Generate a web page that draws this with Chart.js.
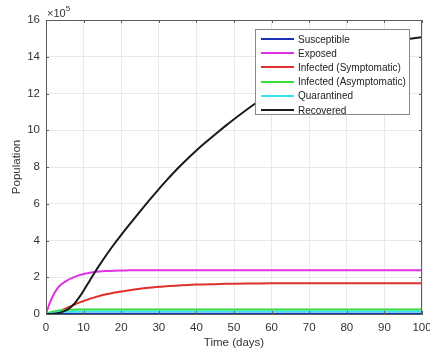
<!DOCTYPE html>
<html>
<head>
<meta charset="utf-8">
<script src="https://cdn.jsdelivr.net/npm/chart.js@4/dist/chart.umd.min.js"></script>
<style>
  html, body { margin: 0; padding: 0; background: #fff; }
  #wrap { position: relative; width: 430px; height: 353px; }
  #legend {
    position: absolute; left: 255px; top: 29px; width: 155px; height: 86px;
    background: #fff; border: 1px solid #8a8a8a;
    font-family: "Liberation Sans", Arial, sans-serif; font-size: 10px; color: #222;
    box-sizing: border-box; padding-top: 2px;
  }
  .row { height: 14.2px; display: flex; align-items: center; }
  .swatch { width: 33px; height: 2px; margin-left: 5px; margin-right: 4px; }
</style>
</head>
<body>
<div id="wrap">
  <canvas id="chartCanvas" width="430" height="353"></canvas>
  <div id="legend"></div>
</div>
<script>
// time axis (days)
const days = [0, 1, 2, 3, 4, 5, 6, 7, 8, 9, 10, 11, 12, 13, 14,
  16, 18, 20, 22, 24, 26, 28, 30, 32, 34, 36, 38, 40, 42, 44, 46, 48, 50,
  55, 60, 65, 70, 75, 80, 85, 90, 95, 100];

// values in units of 10^5
const susceptible = [0.01, 0.01, 0.01, 0.01, 0.01, 0.01, 0.01, 0.01, 0.01, 0.01, 0.01, 0.01, 0.01, 0.01, 0.01,
  0.01, 0.01, 0.01, 0.01, 0.01, 0.01, 0.01, 0.01, 0.01, 0.01, 0.01, 0.01, 0.01, 0.01, 0.01, 0.01, 0.01, 0.01,
  0.01, 0.01, 0.01, 0.01, 0.01, 0.01, 0.01, 0.01, 0.01, 0.01];
const exposed = [0, 0.6, 1.05, 1.38, 1.6, 1.75, 1.87, 1.97, 2.05, 2.12, 2.18, 2.22, 2.26, 2.29, 2.31,
  2.34, 2.36, 2.37, 2.375, 2.38, 2.38, 2.38, 2.38, 2.38, 2.38, 2.38, 2.38, 2.38, 2.38, 2.38, 2.38, 2.38, 2.38,
  2.38, 2.38, 2.38, 2.38, 2.38, 2.38, 2.38, 2.38, 2.38, 2.38];
const symptomatic = [0, 0.01, 0.05, 0.11, 0.19, 0.28, 0.37, 0.46, 0.55, 0.63, 0.71, 0.78, 0.85, 0.91, 0.97,
  1.07, 1.16, 1.23, 1.29, 1.35, 1.4, 1.44, 1.48, 1.51, 1.54, 1.56, 1.58, 1.6, 1.61, 1.62, 1.63, 1.64, 1.65,
  1.66, 1.67, 1.67, 1.67, 1.67, 1.67, 1.67, 1.67, 1.67, 1.67];
const asymptomatic = [0, 0.08, 0.14, 0.18, 0.21, 0.22, 0.23, 0.235, 0.24, 0.245, 0.245, 0.245, 0.245, 0.245, 0.245,
  0.245, 0.245, 0.245, 0.245, 0.245, 0.245, 0.245, 0.245, 0.245, 0.245, 0.245, 0.245, 0.245, 0.245, 0.245, 0.245, 0.245, 0.245,
  0.245, 0.245, 0.245, 0.245, 0.245, 0.245, 0.245, 0.245, 0.245, 0.245];
const quarantined = [0, 0.04, 0.07, 0.09, 0.11, 0.12, 0.125, 0.128, 0.13, 0.13, 0.13, 0.13, 0.13, 0.13, 0.13,
  0.13, 0.13, 0.13, 0.13, 0.13, 0.13, 0.13, 0.13, 0.13, 0.13, 0.13, 0.13, 0.13, 0.13, 0.13, 0.13, 0.13, 0.13,
  0.13, 0.13, 0.13, 0.13, 0.13, 0.13, 0.13, 0.13, 0.13, 0.13];
const recovered = [0, 0.003, 0.015, 0.04, 0.09, 0.17, 0.28, 0.45, 0.68, 0.96, 1.27, 1.6, 1.94, 2.27, 2.59,
  3.2, 3.77, 4.3, 4.82, 5.33, 5.83, 6.32, 6.8, 7.26, 7.7, 8.12, 8.52, 8.9, 9.26, 9.61, 9.95, 10.28, 10.6,
  11.36, 12.05, 12.67, 13.22, 13.7, 14.11, 14.45, 14.72, 14.92, 15.06];

const labels = ["Susceptible", "Exposed", "Infected (Symptomatic)", "Infected (Asymptomatic)", "Quarantined", "Recovered"];
const colors = ["#1c2fb8", "#e032e0", "#e0302c", "#35dd35", "#35e3ea", "#1a1a1a"];
const series = [susceptible, exposed, symptomatic, asymptomatic, quarantined, recovered];

const yTicks = [0, 2, 4, 6, 8, 10, 12, 14, 16];
const xTicks = [0, 10, 20, 30, 40, 50, 60, 70, 80, 90, 100];

const FONT = "'Liberation Sans', Arial, sans-serif";
const FRAME = "#5e5e5e";

// box around the axes, inward tick marks and the x10^5 multiplier
const framePlugin = {
  id: "frame",
  afterDraw(chart) {
    const ctx = chart.ctx;
    const a = chart.chartArea;
    const sx = chart.scales.x, sy = chart.scales.y;
    ctx.save();
    ctx.strokeStyle = FRAME;
    ctx.lineWidth = 1;
    ctx.strokeRect(a.left + 0.5, a.top + 0.5, a.right - a.left - 1, a.bottom - a.top);
    ctx.beginPath();
    xTicks.forEach((v) => {
      const p = Math.round(sx.getPixelForValue(v)) + 0.5;
      ctx.moveTo(p, a.bottom); ctx.lineTo(p, a.bottom - 3);
      ctx.moveTo(p, a.top); ctx.lineTo(p, a.top + 3);
    });
    yTicks.forEach((v) => {
      const p = Math.round(sy.getPixelForValue(v)) + 0.5;
      ctx.moveTo(a.left, p); ctx.lineTo(a.left + 3, p);
      ctx.moveTo(a.right, p); ctx.lineTo(a.right - 3, p);
    });
    ctx.stroke();
    ctx.fillStyle = "#333";
    ctx.textBaseline = "alphabetic";
    ctx.font = "11px " + FONT;
    ctx.fillText("\u00d710", a.left + 1, a.top - 3);
    const w = ctx.measureText("\u00d710").width;
    ctx.font = "8px " + FONT;
    ctx.fillText("5", a.left + 1 + w, a.top - 9);
    ctx.restore();
  }
};

const ctx = document.getElementById("chartCanvas").getContext("2d");
const chart = new Chart(ctx, {
  type: "line",
  data: {
    datasets: series.map((vals, i) => ({
      label: labels[i],
      data: days.map((d, j) => ({ x: d, y: vals[j] })),
      borderColor: colors[i],
      borderWidth: 2,
      pointRadius: 0,
      cubicInterpolationMode: "monotone",
      order: 6 - i,
    })),
  },
  options: {
    animation: false,
    responsive: false,
    devicePixelRatio: 1,
    layout: { padding: { left: 0, top: 20, right: 8, bottom: 0 } },
    plugins: {
      legend: { display: false },
      tooltip: { enabled: false },
    },
    scales: {
      x: {
        type: "linear",
        min: 0,
        max: 100,
        afterBuildTicks: (s) => { s.ticks = xTicks.map((v) => ({ value: v })); },
        afterFit: (s) => { s.height = 39; s.paddingLeft = 0; s.paddingRight = 0; },
        grid: { color: "#e9e9e9", drawTicks: false },
        border: { color: FRAME },
        ticks: { color: "#333", font: { family: FONT, size: 11.5 }, padding: 7, maxRotation: 0 },
        title: { display: true, text: "Time (days)", color: "#333", font: { family: FONT, size: 11.5 }, padding: { top: 0, bottom: 3 } },
      },
      y: {
        min: 0,
        max: 16,
        afterBuildTicks: (s) => { s.ticks = yTicks.map((v) => ({ value: v })); },
        afterFit: (s) => { s.width = 46; s.paddingTop = 0; s.paddingBottom = 0; },
        grid: { color: "#e9e9e9", drawTicks: false },
        border: { color: FRAME },
        ticks: { color: "#333", font: { family: FONT, size: 11.5 }, padding: 6 },
        title: { display: true, text: "Population", color: "#333", font: { family: FONT, size: 11.5 }, padding: { top: 10, bottom: 0 } },
      },
    },
  },
  plugins: [framePlugin],
});

const legend = document.getElementById("legend");
labels.forEach((name, i) => {
  const row = document.createElement("div");
  row.className = "row";
  const sw = document.createElement("span");
  sw.className = "swatch";
  sw.style.background = colors[i];
  const tx = document.createElement("span");
  tx.textContent = name;
  row.appendChild(sw);
  row.appendChild(tx);
  legend.appendChild(row);
});
</script>
</body>
</html>
